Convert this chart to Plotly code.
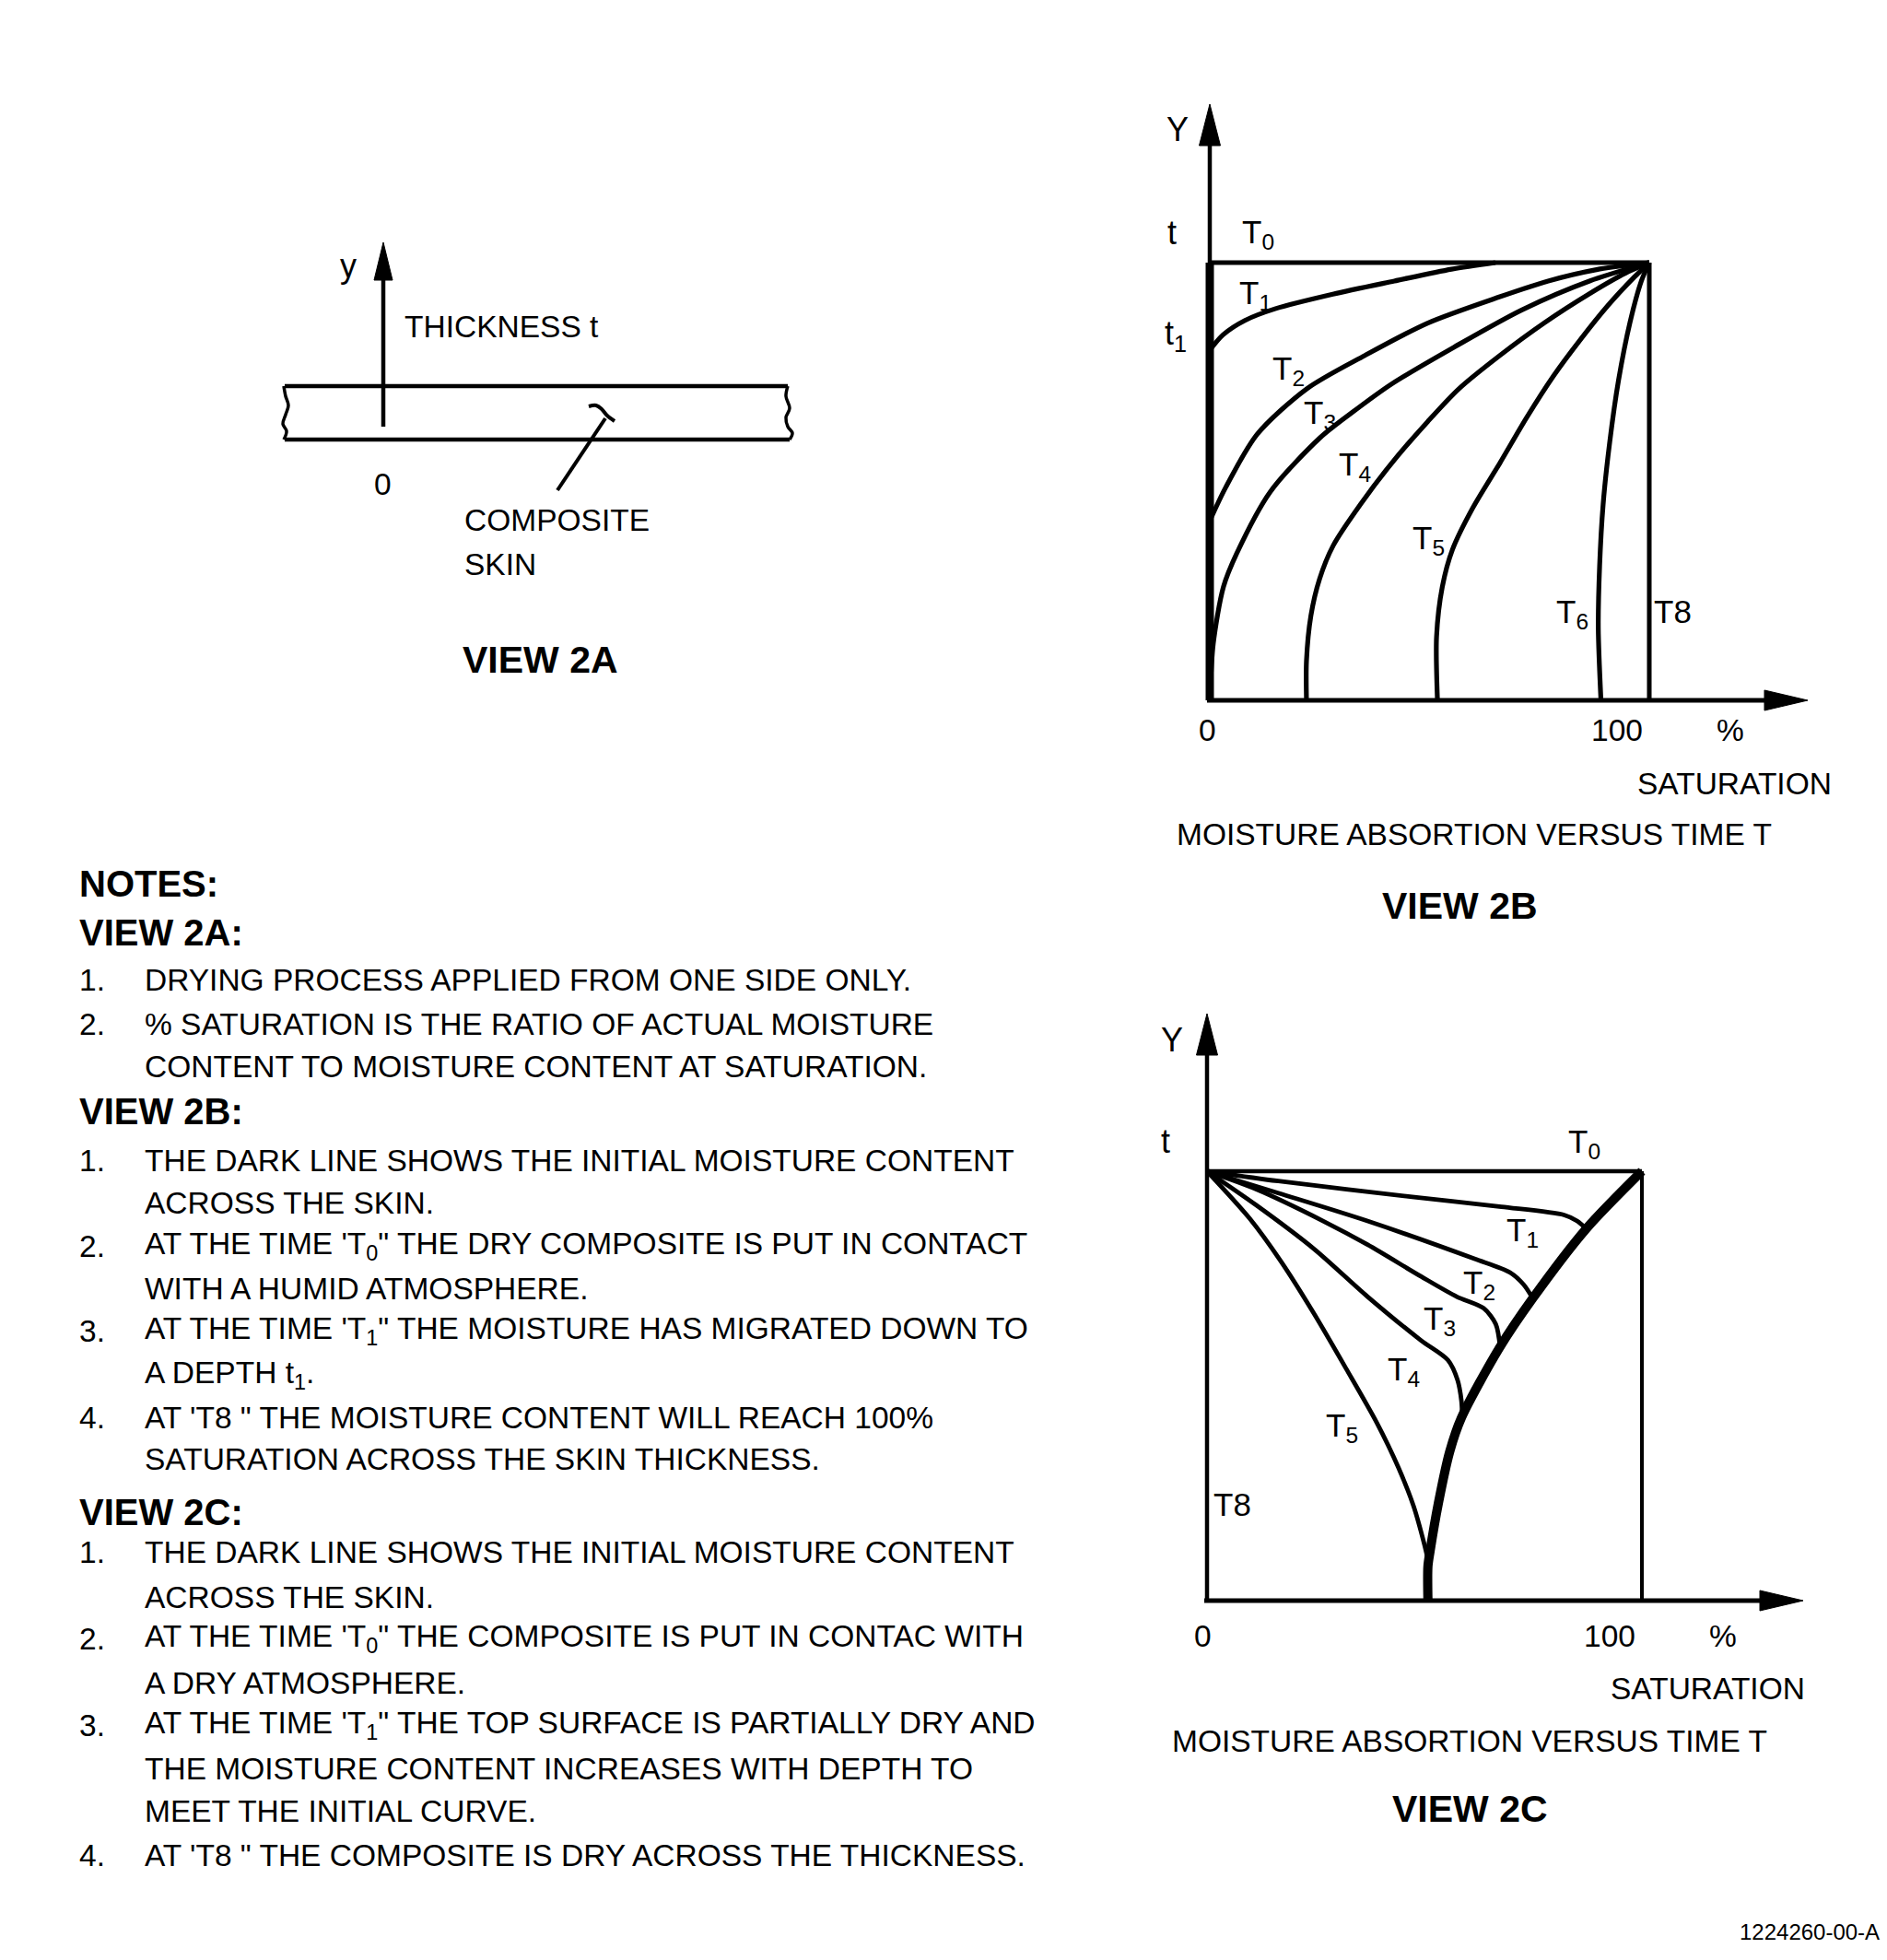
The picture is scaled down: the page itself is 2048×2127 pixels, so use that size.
import plotly.graph_objects as go

W, H = 2048, 2127
FONT = "Liberation Sans Narrow, Arial Narrow, Liberation Sans, Arial, sans-serif"

# ---------------- DATA ----------------
# View 2B: moisture absorption (x = % saturation, y = depth as fraction of thickness t)
B_T1_X = [0, 3, 8, 15, 28, 42, 55, 65]
B_T1_Y = [0.80, 0.835, 0.868, 0.895, 0.928, 0.958, 0.985, 1.0]
B_T2_X = [0, 3.6, 10.8, 22.1, 35.3, 49.6, 66, 77, 88, 100]
B_T2_Y = [0.41, 0.486, 0.608, 0.712, 0.788, 0.862, 0.922, 0.958, 0.984, 1.0]
B_T3_X = [0, 0.8, 3.1, 6.1, 13.8, 25.1, 32.3, 41.4, 55.6, 71, 86.4, 100]
B_T3_Y = [0, 0.13, 0.259, 0.335, 0.477, 0.6, 0.657, 0.723, 0.807, 0.892, 0.958, 1.0]
B_T4_X = [22, 22, 23, 25, 28.1, 34.3, 41.4, 49.6, 56.7, 66, 76.2, 86.4, 94.6, 100]
B_T4_Y = [0, 0.09, 0.193, 0.278, 0.354, 0.448, 0.542, 0.637, 0.712, 0.788, 0.863, 0.929, 0.976, 1.0]
B_T5_X = [51.8, 51.6, 52.9, 55.2, 59.8, 66, 72.1, 78.2, 84.4, 90.5, 96.6, 100]
B_T5_Y = [0, 0.146, 0.259, 0.344, 0.439, 0.542, 0.646, 0.741, 0.825, 0.901, 0.967, 1.0]
B_T6_X = [89, 88.4, 88.7, 89.5, 91, 93, 95.6, 98.2, 100]
B_T6_Y = [0, 0.165, 0.307, 0.448, 0.59, 0.731, 0.863, 0.958, 1.0]
B_T8_X = [100, 100]
B_T8_Y = [0, 1.0]
B_INIT_X = [0, 0]          # dark line: initial moisture content (dry)
B_INIT_Y = [0, 1.0]
B_T0_X = [0, 100]
B_T0_Y = [1.0, 1.0]

# View 2C: drying (x = % saturation, y = depth as fraction of thickness t)
C_INIT_X = [50.8, 50.8, 51.3, 53.2, 55.8, 58.5, 67.2, 74.9, 87.2, 100]
C_INIT_Y = [0, 0.08, 0.116, 0.227, 0.347, 0.426, 0.588, 0.704, 0.866, 1.0]
C_T1_X = [0, 16.4, 47.2, 67.7, 82.1, 85.1, 87.2]
C_T1_Y = [1.0, 0.977, 0.940, 0.917, 0.898, 0.884, 0.866]
C_T2_X = [0, 16.4, 36.9, 61.5, 69.7, 72.8, 74.9]
C_T2_Y = [1.0, 0.949, 0.884, 0.796, 0.764, 0.736, 0.704]
C_T3_X = [0, 11.3, 26.7, 36.9, 49.2, 57.4, 63.6, 66.4, 67.4]
C_T3_Y = [1.0, 0.958, 0.884, 0.829, 0.755, 0.708, 0.681, 0.644, 0.59]
C_T4_X = [0, 11.3, 24.6, 36.9, 49.2, 55.4, 57.6, 58.5, 58.7]
C_T4_Y = [1.0, 0.921, 0.819, 0.708, 0.606, 0.560, 0.514, 0.465, 0.425]
C_T5_X = [0, 9.8, 17, 24.5, 32, 39, 44, 47.5, 50, 50.8]
C_T5_Y = [1.0, 0.89, 0.79, 0.67, 0.54, 0.415, 0.31, 0.22, 0.13, 0.095]
C_T0_X = [0, 100]
C_T0_Y = [1.0, 1.0]

X_TICKS = ["0", "100", "%"]

NOTES = [
    ("h", "NOTES:"),
    ("h", "VIEW 2A:"),
    ("n", "1.", "DRYING PROCESS APPLIED FROM ONE SIDE ONLY."),
    ("n", "2.", "% SATURATION IS THE RATIO OF ACTUAL MOISTURE"),
    ("c", "CONTENT TO MOISTURE CONTENT AT SATURATION."),
    ("h", "VIEW 2B:"),
    ("n", "1.", "THE DARK LINE SHOWS THE INITIAL MOISTURE CONTENT"),
    ("c", "ACROSS THE SKIN."),
    ("n", "2.", "AT THE TIME 'T<sub>0</sub>\" THE DRY COMPOSITE IS PUT IN CONTACT"),
    ("c", "WITH A HUMID ATMOSPHERE."),
    ("n", "3.", "AT THE TIME 'T<sub>1</sub>\" THE MOISTURE HAS MIGRATED DOWN TO"),
    ("c", "A DEPTH t<sub>1</sub>."),
    ("n", "4.", "AT 'T8 \" THE MOISTURE CONTENT WILL REACH 100%"),
    ("c", "SATURATION ACROSS THE SKIN THICKNESS."),
    ("h", "VIEW 2C:"),
    ("n", "1.", "THE DARK LINE SHOWS THE INITIAL MOISTURE CONTENT"),
    ("c", "ACROSS THE SKIN."),
    ("n", "2.", "AT THE TIME 'T<sub>0</sub>\" THE COMPOSITE IS PUT IN CONTAC WITH"),
    ("c", "A DRY ATMOSPHERE."),
    ("n", "3.", "AT THE TIME 'T<sub>1</sub>\" THE TOP SURFACE IS PARTIALLY DRY AND"),
    ("c", "THE MOISTURE CONTENT INCREASES WITH DEPTH TO"),
    ("c", "MEET THE INITIAL CURVE."),
    ("n", "4.", "AT 'T8 \" THE COMPOSITE IS DRY ACROSS THE THICKNESS."),
]
NOTES_Y = [959, 1012, 1063, 1111, 1157, 1206, 1259, 1305, 1352, 1398, 1444, 1492,
           1538, 1583, 1641, 1684, 1733, 1778, 1826, 1872, 1919, 1965, 2013]

# ---------------- LAYOUT GEOMETRY (pixels) ----------------
VIEWS = {
    "B": dict(u0=1313, u100=1790, v0=760, v1=285, win=(1240, 2000, 90, 800),
              ytip=113, ybase=158, xtip=1962, xbase=1915),
    "C": dict(u0=1310, u100=1782, v0=1737, v1=1271, win=(1240, 2000, 1080, 1780),
              ytip=1100, ybase=1145, xtip=1957, xbase=1910),
}

BODY = 33.5
LBL = 35


def px2x(v, px):
    return (px - v["u0"]) / (v["u100"] - v["u0"]) * 100.0


def py2y(v, py):
    return (v["v0"] - py) / (v["v0"] - v["v1"])


fig = go.Figure()
shapes = []
annotations = []


def P(px, py):
    return px / W, 1 - py / H


def text(px, py, s, size=BODY, xanchor="center", bold=False):
    x, y = P(px, py)
    annotations.append(dict(
        x=x, y=y, xref="paper", yref="paper", text=("<b>%s</b>" % s) if bold else s,
        showarrow=False, xanchor=xanchor, yanchor="middle",
        font=dict(family=FONT, size=size, color="black")))


def line_trace(xs, ys, axis, width=5, spline=True):
    fig.add_trace(go.Scatter(
        x=xs, y=ys, mode="lines", xaxis="x" + axis, yaxis="y" + axis,
        line=dict(color="black", width=width, shape="spline" if spline else "linear",
                  smoothing=0.8),
        hoverinfo="skip", showlegend=False))


layout_axes = {}
for key, ax in (("B", "2"), ("C", "3")):
    v = VIEWS[key]
    wx0, wx1, wy0, wy1 = v["win"]
    layout_axes["xaxis" + ax] = dict(domain=[wx0 / W, wx1 / W],
                                     range=[px2x(v, wx0), px2x(v, wx1)],
                                     visible=False, fixedrange=True, anchor="y" + ax)
    layout_axes["yaxis" + ax] = dict(domain=[1 - wy1 / H, 1 - wy0 / H],
                                     range=[py2y(v, wy1), py2y(v, wy0)],
                                     visible=False, fixedrange=True, anchor="x" + ax)
    xr, yr = "x" + ax, "y" + ax
    shapes.append(dict(type="line", xref=xr, yref=yr, x0=0, x1=0, y0=0,
                       y1=py2y(v, v["ybase"]), line=dict(color="black", width=4.5)))
    hw = px2x(v, v["u0"] + 11.5)
    shapes.append(dict(type="path", xref=xr, yref=yr,
                       path="M %f %f L %f %f L %f %f Z" % (
                           -hw, py2y(v, v["ybase"]), 0, py2y(v, v["ytip"]),
                           hw, py2y(v, v["ybase"])),
                       fillcolor="black", line=dict(color="black", width=1)))
    shapes.append(dict(type="line", xref=xr, yref=yr, x0=px2x(v, v["u0"] - 3), y0=0,
                       x1=px2x(v, v["xbase"]), y1=0, line=dict(color="black", width=5)))
    hh = py2y(v, v["v0"] - 11)
    shapes.append(dict(type="path", xref=xr, yref=yr,
                       path="M %f %f L %f %f L %f %f Z" % (
                           px2x(v, v["xbase"]), -hh, px2x(v, v["xtip"]), 0,
                           px2x(v, v["xbase"]), hh),
                       fillcolor="black", line=dict(color="black", width=1)))

# ---- View 2B curves ----
line_trace(B_INIT_X, B_INIT_Y, "2", width=9, spline=False)
line_trace(B_T0_X, B_T0_Y, "2", width=5, spline=False)
line_trace(B_T8_X, B_T8_Y, "2", width=5, spline=False)
for xs, ys in ((B_T1_X, B_T1_Y), (B_T2_X, B_T2_Y), (B_T3_X, B_T3_Y),
               (B_T4_X, B_T4_Y), (B_T5_X, B_T5_Y), (B_T6_X, B_T6_Y)):
    line_trace(xs, ys, "2", width=5.2)

# ---- View 2C curves ----
shapes.append(dict(type="line", xref="x3", yref="y3", x0=0, x1=0, y0=0, y1=1,
                   line=dict(color="black", width=4)))
shapes.append(dict(type="line", xref="x3", yref="y3", x0=100, x1=100, y0=0, y1=1,
                   line=dict(color="black", width=4)))
line_trace(C_T0_X, C_T0_Y, "3", width=4.5, spline=False)
for xs, ys in ((C_T1_X, C_T1_Y), (C_T2_X, C_T2_Y), (C_T3_X, C_T3_Y),
               (C_T4_X, C_T4_Y), (C_T5_X, C_T5_Y)):
    line_trace(xs, ys, "3", width=4.8)
line_trace(C_INIT_X, C_INIT_Y, "3", width=10)

# ---- View 2A schematic (pixel-unit axes) ----
layout_axes["xaxis"] = dict(domain=[250 / W, 900 / W], range=[250, 900], visible=False,
                            fixedrange=True)
layout_axes["yaxis"] = dict(domain=[1 - 780 / H, 1 - 230 / H], range=[780, 230],
                            visible=False, fixedrange=True)
SKIN_TOP, SKIN_BOT = 419, 477


def sketch(xs, ys, width=4.5, spline=False):
    fig.add_trace(go.Scatter(x=xs, y=ys, mode="lines",
                             line=dict(color="black", width=width,
                                       shape="spline" if spline else "linear"),
                             hoverinfo="skip", showlegend=False))


sketch([309, 855], [SKIN_TOP, SKIN_TOP])
sketch([309, 857], [SKIN_BOT, SKIN_BOT])
sketch([308, 310, 313, 310, 307, 311, 308], [419, 430, 440, 450, 460, 468, 477], 3.5, True)
sketch([855, 853, 857, 853, 855, 860, 857], [419, 430, 443, 453, 463, 470, 477], 3.5, True)
sketch([416, 416], [463, 300])
fig.add_trace(go.Scatter(x=[406, 416, 426, 406], y=[304, 263, 304, 304], mode="lines",
                         fill="toself", fillcolor="black",
                         line=dict(color="black", width=1), hoverinfo="skip", showlegend=False))
sketch([605, 657], [532, 454], 4)
sketch([639, 647, 653, 659, 667], [441, 440, 444, 451, 457], 4, True)

# ---------------- TEXT ----------------
text(378, 288, "y", 36)
text(437, 355, "THICKNESS t", BODY, xanchor="left")
text(415, 525, "0", BODY)
text(502, 564, "COMPOSITE", BODY, xanchor="left")
text(502, 612, "SKIN", BODY, xanchor="left")
text(586, 716, "VIEW 2A", 41, bold=True)

text(1278, 140, "Y", 36)
text(1272, 252, "t", 36)
text(1276, 364, "t<sub>1</sub>", 36)
for lbl, (px, py) in (("T<sub>0</sub>", (1365, 254)), ("T<sub>1</sub>", (1362, 320)),
                      ("T<sub>2</sub>", (1398, 402)), ("T<sub>3</sub>", (1432, 450)),
                      ("T<sub>4</sub>", (1470, 506)), ("T<sub>5</sub>", (1550, 586)),
                      ("T<sub>6</sub>", (1706, 666)), ("T8", (1815, 664))):
    text(px, py, lbl, LBL)
text(1310, 792, X_TICKS[0], BODY)
text(1755, 792, X_TICKS[1], BODY)
text(1878, 792, X_TICKS[2], BODY)
text(1990, 850, "SATURATION", BODY, xanchor="right")
text(1600, 905, "MOISTURE ABSORTION VERSUS TIME T", BODY)
text(1584, 983, "VIEW 2B", 41, bold=True)

text(1272, 1128, "Y", 36)
text(1265, 1238, "t", 36)
for lbl, (px, py) in (("T<sub>0</sub>", (1719, 1241)), ("T<sub>1</sub>", (1652, 1337)),
                      ("T<sub>2</sub>", (1605, 1394)), ("T<sub>3</sub>", (1562, 1433)),
                      ("T<sub>4</sub>", (1523, 1488)), ("T<sub>5</sub>", (1456, 1549)),
                      ("T8", (1337, 1632))):
    text(px, py, lbl, LBL)
text(1305, 1775, X_TICKS[0], BODY)
text(1747, 1775, X_TICKS[1], BODY)
text(1870, 1775, X_TICKS[2], BODY)
text(1961, 1832, "SATURATION", BODY, xanchor="right")
text(1595, 1889, "MOISTURE ABSORTION VERSUS TIME T", BODY)
text(1595, 1963, "VIEW 2C", 41, bold=True)

for item, py in zip(NOTES, NOTES_Y):
    if item[0] == "h":
        text(84, py, item[1], 40, xanchor="left", bold=True)
    elif item[0] == "n":
        text(84, py, item[1], BODY, xanchor="left")
        text(155, py, item[2], BODY, xanchor="left")
    else:
        text(155, py, item[1], BODY, xanchor="left")

text(2042, 2096, "1224260-00-A", 24, xanchor="right")

fig.update_layout(
    width=W, height=H, margin=dict(l=0, r=0, t=0, b=0),
    paper_bgcolor="white", plot_bgcolor="rgba(0,0,0,0)",
    showlegend=False, shapes=shapes, annotations=annotations, **layout_axes)

fig.write_html("out.html", config={"displayModeBar": False, "staticPlot": True},
               post_script="document.body.style.margin='0px';")
